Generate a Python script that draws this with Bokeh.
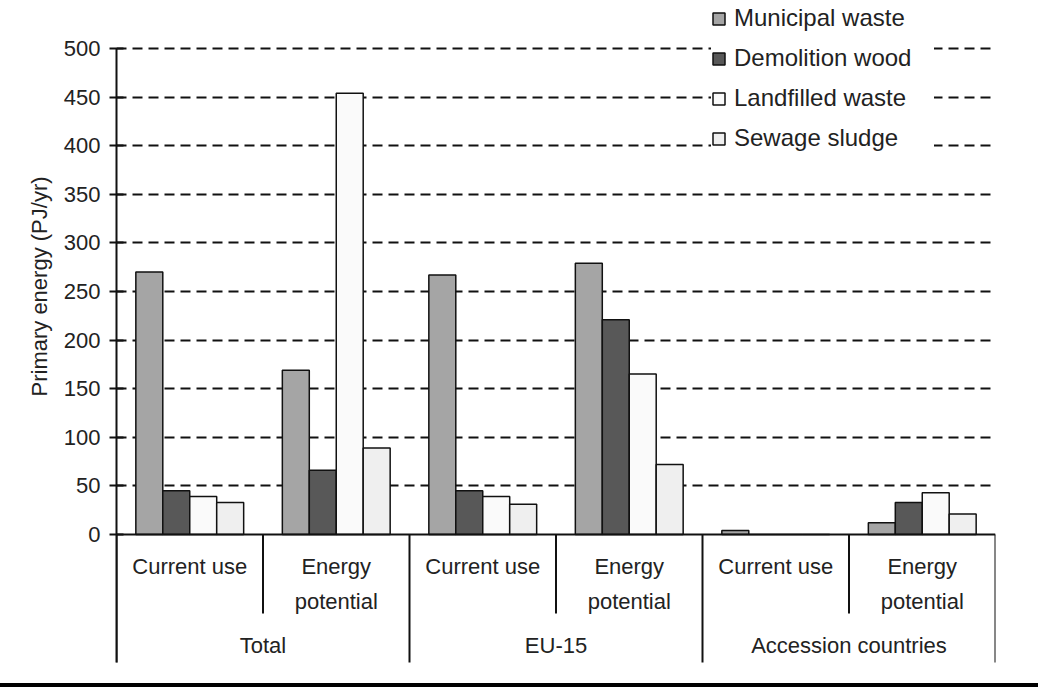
import math
from bokeh.plotting import figure
from bokeh.models import (FactorRange, Range1d, FixedTicker, ColumnDataSource,
                          Legend, LegendItem, Title, Div, Span)
from bokeh.transform import dodge
from bokeh.core.properties import value
from bokeh.layouts import column
from bokeh.embed import file_html
from bokeh.resources import INLINE

# ---------------- data ----------------
regions = ["Total", "EU-15", "Accession countries"]
measures = ["Current use", "Energy potential"]
measure_labels = ["Current use", "Energy\npotential"]
series = ["Municipal waste", "Demolition wood", "Landfilled waste", "Sewage sludge"]
municipal = [270, 169, 267, 279, 4, 12]
demolition = [45, 66, 45, 221, 0, 33]
landfilled = [39, 454, 39, 165, 0, 43]
sewage = [33, 89, 31, 72, 0, 21]
y_ticks = [0, 50, 100, 150, 200, 250, 300, 350, 400, 450, 500]
y_title = "Primary energy (PJ/yr)"

colors = ["#a5a5a5", "#585858", "#fafafa", "#efefef"]
FONT = "Liberation Sans"
TXT = "#222222"

# ---------------- layout helpers ----------------
PX = 0.972            # pixels per PJ/yr
ZERO_PX = 534         # screen y of value 0
H = 683
def ydat(px):
    return (ZERO_PX - px) / PX

factors = [(r, m) for r in regions for m in measures]

p = figure(width=1038, height=H,
           x_range=FactorRange(*factors, group_padding=0, factor_padding=0,
                               subgroup_padding=0, range_padding=0),
           y_range=Range1d(ydat(H), ydat(0)),
           output_backend="svg", toolbar_location=None,
           min_border_left=116, min_border_right=43,
           min_border_top=0, min_border_bottom=0,
           x_axis_location=None)
p.outline_line_color = None
p.background_fill_color = "white"
p.border_fill_color = "white"
p.xgrid.visible = False

# y axis
ax = p.yaxis[0]
ax.ticker = FixedTicker(ticks=y_ticks)
ax.bounds = (ydat(662), 500)
ax.axis_line_width = 2
ax.axis_line_color = "#111111"
ax.major_tick_line_width = 2
ax.major_tick_line_color = "#111111"
ax.major_tick_in = 7
ax.major_tick_out = 7
ax.minor_tick_line_color = None
ax.major_label_standoff = 9
ax.major_label_text_font = FONT
ax.major_label_text_font_size = "22px"
ax.major_label_text_color = TXT

p.ygrid.ticker = FixedTicker(ticks=y_ticks[1:])
p.ygrid.grid_line_color = "#111111"
p.ygrid.grid_line_dash = "10 6"
p.ygrid.grid_line_width = 2

# bars
src = ColumnDataSource(dict(x=factors, municipal=municipal, demolition=demolition,
                            landfilled=landfilled, sewage=sewage))
keys = ["municipal", "demolition", "landfilled", "sewage"]
w = 0.184
offsets = [-1.5 * w, -0.5 * w, 0.5 * w, 1.5 * w]
items = []
for key, name, col, off in zip(keys, series, colors, offsets):
    r = p.vbar(x=dodge("x", off, range=p.x_range), top=key, width=w, source=src,
               fill_color=col, line_color="#111111", line_width=1.5)
    items.append(LegendItem(label=name, renderers=[r]))

# zero line
p.add_layout(Span(location=0, dimension="width", line_color="#111111", line_width=2))

# category table dividers
long_y = ydat(662)
short_y = ydat(613)
div_src = ColumnDataSource(dict(x=factors, y1=[long_y if i % 2 == 0 else short_y
                                               for i in range(len(factors))]))
p.segment(x0=dodge("x", -0.5, range=p.x_range), y0=0,
          x1=dodge("x", -0.5, range=p.x_range), y1="y1", source=div_src,
          line_color="#111111", line_width=2)
end_src = ColumnDataSource(dict(x=[factors[-1]], y1=[long_y]))
p.segment(x0=dodge("x", 0.5, range=p.x_range), y0=0,
          x1=dodge("x", 0.5, range=p.x_range), y1="y1", source=end_src,
          line_color="#111111", line_width=2)

# sub-category labels
lab_src = ColumnDataSource(dict(x=factors,
                                text=[measure_labels[i % 2] for i in range(len(factors))]))
p.text(x="x", y=ydat(553), text="text", source=lab_src,
       text_font=value(FONT), text_font_size="22px", text_color=TXT,
       text_align="center", text_baseline="top", text_line_height=1.4)

# group labels
grp_src = ColumnDataSource(dict(x=regions, text=regions))
p.text(x="x", y=ydat(645), text="text", source=grp_src,
       text_font=value(FONT), text_font_size="22px", text_color=TXT,
       text_align="center", text_baseline="middle")

# y title (as a left-side title so it can be offset along the axis)
p.add_layout(Title(text=y_title, align="left", offset=H - 396,
                   text_font=FONT, text_font_size="22px", text_color=TXT,
                   text_font_style="normal", standoff=18), "left")

# legend
PAD = 10
legend = Legend(items=items,
                location=(711 - 116, H + 16 - (4 * 28 + 3 * 12 + 2 * PAD)),
                label_text_font=FONT, label_text_font_size="24px",
                label_text_color=TXT, glyph_width=15, glyph_height=15,
                label_height=28, label_width=200, spacing=12, padding=PAD,
                label_standoff=8,
                border_line_color=None, background_fill_color="white",
                background_fill_alpha=1.0, margin=0)
p.add_layout(legend)

bottom = Div(text="", width=1038, height=4, margin=(0, 0, 0, 0),
             styles={"background-color": "#000000"})

layout = column(p, bottom, spacing=0)
open("out.html", "w").write(file_html(layout, INLINE))
